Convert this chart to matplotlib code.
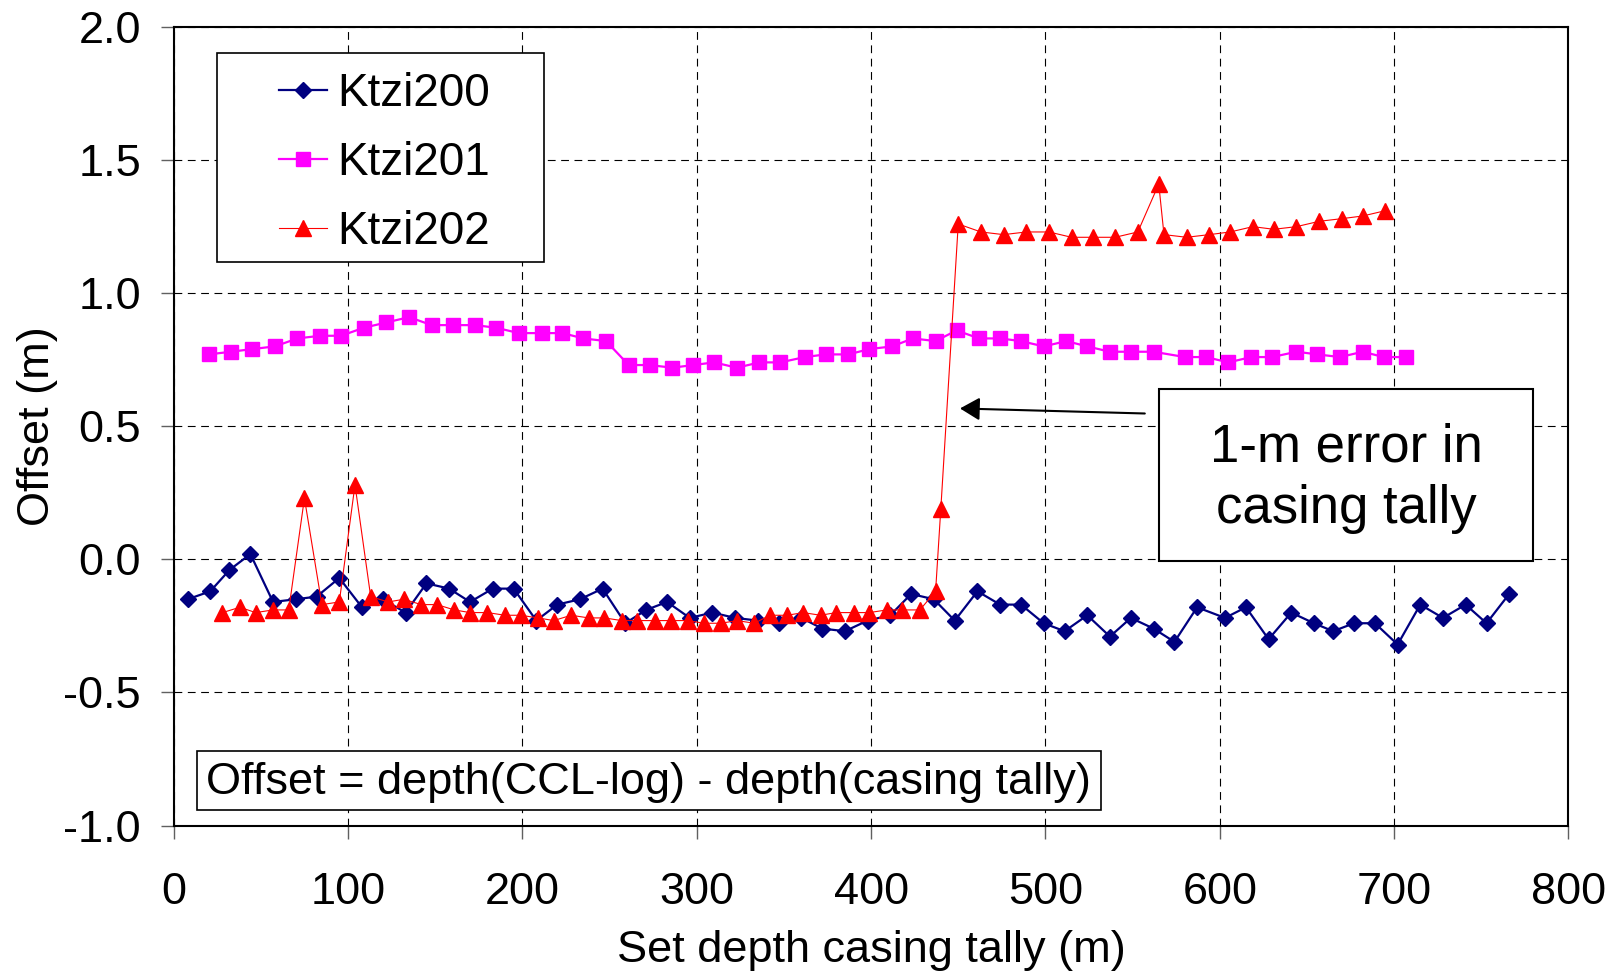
import matplotlib
matplotlib.use("Agg")
import matplotlib.pyplot as plt
from matplotlib.patches import Rectangle

plt.rcParams['font.family'] = ['Liberation Sans', 'DejaVu Sans']
plt.rcParams['axes.unicode_minus'] = False

# data
k200_x = [8, 21, 32, 44, 57, 70, 82, 95, 108, 120, 133, 145, 158, 170, 183, 195, 208, 220, 233, 246,
          259, 271, 283, 296, 309, 322, 335, 347, 360, 372, 385, 398, 411, 423, 436, 448, 461, 474, 486, 499,
          511, 524, 537, 549, 562, 574, 587, 603, 615, 628, 641, 654, 665, 677, 689, 702, 715, 728, 741, 753,
          766]
k200_y = [-0.15, -0.12, -0.04, 0.02, -0.16, -0.15, -0.14, -0.07, -0.18, -0.15, -0.20, -0.09, -0.11, -0.16,
          -0.11, -0.11, -0.23, -0.17, -0.15, -0.11, -0.24, -0.19, -0.16, -0.22, -0.20, -0.22, -0.23, -0.24,
          -0.22, -0.26, -0.27, -0.23, -0.21, -0.13, -0.15, -0.23, -0.12, -0.17, -0.17, -0.24, -0.27, -0.21,
          -0.29, -0.22, -0.26, -0.31, -0.18, -0.22, -0.18, -0.30, -0.20, -0.24, -0.27, -0.24, -0.24, -0.32,
          -0.17, -0.22, -0.17, -0.24, -0.13]

k201_x = [20, 33, 45, 58, 71, 84, 96, 109, 122, 135, 148, 160, 173, 185, 198, 211, 223, 235, 248, 261,
          273, 286, 298, 310, 323, 336, 348, 362, 374, 387, 399, 412, 424, 437, 449, 462, 474, 486, 499, 512,
          524, 537, 549, 562, 580, 592, 605, 618, 630, 644, 656, 669, 682, 694, 707]
k201_y = [0.77, 0.78, 0.79, 0.80, 0.83, 0.84, 0.84, 0.87, 0.89, 0.91, 0.88, 0.88, 0.88, 0.87, 0.85, 0.85,
          0.85, 0.83, 0.82, 0.73, 0.73, 0.72, 0.73, 0.74, 0.72, 0.74, 0.74, 0.76, 0.77, 0.77, 0.79, 0.80,
          0.83, 0.82, 0.86, 0.83, 0.83, 0.82, 0.80, 0.82, 0.80, 0.78, 0.78, 0.78, 0.76, 0.76, 0.74, 0.76,
          0.76, 0.78, 0.77, 0.76, 0.78, 0.76, 0.76]

k202_x = [28, 38, 47, 57, 66, 75, 85, 95, 104, 113, 123, 132, 142, 151, 161, 170, 180, 190, 199, 209,
          218, 228, 238, 247, 257, 266, 276, 285, 295, 304, 314, 323, 333, 342, 352, 361, 371, 380, 390, 399,
          409, 418, 428, 437, 440, 450, 463, 476, 489, 502, 515, 527, 540, 553, 565, 568, 581, 594, 606, 619,
          631, 644, 657, 670, 682, 695]
k202_y = [-0.20, -0.18, -0.20, -0.19, -0.19, 0.23, -0.17, -0.16, 0.28, -0.14, -0.16, -0.15, -0.17, -0.17,
          -0.19, -0.20, -0.20, -0.21, -0.21, -0.22, -0.23, -0.21, -0.22, -0.22, -0.23, -0.23, -0.23, -0.23,
          -0.23, -0.24, -0.24, -0.23, -0.24, -0.21, -0.21, -0.20, -0.21, -0.20, -0.20, -0.20, -0.19, -0.19,
          -0.19, -0.12, 0.19, 1.26, 1.23, 1.22, 1.23, 1.23, 1.21, 1.21, 1.21, 1.23, 1.41, 1.22, 1.21, 1.22,
          1.23, 1.25, 1.24, 1.25, 1.27, 1.28, 1.29, 1.31]

x_ticks = [0, 100, 200, 300, 400, 500, 600, 700, 800]
y_ticks = [-1.0, -0.5, 0.0, 0.5, 1.0, 1.5, 2.0]

note_text = "1-m error in\ncasing tally"
formula_text = "Offset = depth(CCL-log) - depth(casing tally)"
arrow_tip = (451, 0.567)
arrow_tail = (557, 0.548)

fig = plt.figure(figsize=(16.2, 9.75), dpi=100)
ax = fig.add_axes([0.1072, 0.1533, 0.861, 0.819])

ax.plot(k200_x, k200_y, color='#000080', lw=1.6, marker='D', ms=8.5, label='Ktzi200', zorder=3)
ax.plot(k201_x, k201_y, color='#FF00FF', lw=1.6, marker='s', ms=9.5, label='Ktzi201', zorder=3)
ax.plot(k202_x, k202_y, color='#FF0000', lw=0.8, marker='^', ms=11, label='Ktzi202', zorder=3)

ax.set_xlim(0, 800)
ax.set_ylim(-1.0, 2.0)
ax.set_xticks(x_ticks)
ax.set_yticks(y_ticks)
ax.set_yticklabels([f"{v:.1f}" for v in y_ticks])
ax.tick_params(axis='both', direction='out', length=9.5, width=1, colors='#606060',
               labelsize=32.5, labelcolor='black')
ax.tick_params(axis='x', pad=24)
ax.tick_params(axis='y', pad=14)
ax.grid(True, color='black', linestyle=(0, (7, 5)), lw=0.8, zorder=0)
ax.set_axisbelow(True)
for s in ax.spines.values():
    s.set_color('black')
    s.set_linewidth(1.5)

ax.set_xlabel("Set depth casing tally (m)", fontsize=32.5)
ax.set_ylabel("Offset (m)", fontsize=32.5)
ax.xaxis.label.set_va('center')
ax.yaxis.label.set_va('center')
ax.xaxis.set_label_coords(0.5, -0.157)
ax.yaxis.set_label_coords(-0.0976, 0.5)

# legend with a square frame drawn behind it
ax.add_patch(Rectangle((0.031, 0.7056), 0.2348, 0.2621, transform=ax.transAxes,
                       facecolor='white', edgecolor='black', lw=1.2, zorder=4))
leg = ax.legend(loc='upper left', bbox_to_anchor=(0.0756, 0.944), frameon=False, fontsize=33,
                handlelength=1.05, handletextpad=0.22, labelspacing=0.55, borderpad=0,
                borderaxespad=0)
leg.set_zorder(5)

ax.annotate("", xy=arrow_tip, xytext=arrow_tail,
            arrowprops=dict(arrowstyle='-|>,head_length=0.6,head_width=0.35', color='black',
                            lw=1.5, mutation_scale=20, shrinkA=0, shrinkB=0), zorder=5)

# note box
ax.add_patch(Rectangle((0.7067, 0.3317), 0.2682, 0.2145, transform=ax.transAxes,
                       facecolor='white', edgecolor='black', lw=1.5, zorder=6))
ax.text(0.8408, 0.4345, note_text, transform=ax.transAxes, ha='center', va='center',
        fontsize=38, linespacing=1.3, zorder=7)

# formula box
ax.add_patch(Rectangle((0.0169, 0.0194), 0.6476, 0.0743, transform=ax.transAxes,
                       facecolor='white', edgecolor='black', lw=1.2, zorder=6))
ax.text(0.3407, 0.0545, formula_text, transform=ax.transAxes, ha='center', va='center',
        fontsize=32.5, zorder=7)

fig.savefig("out.png", dpi=100)
